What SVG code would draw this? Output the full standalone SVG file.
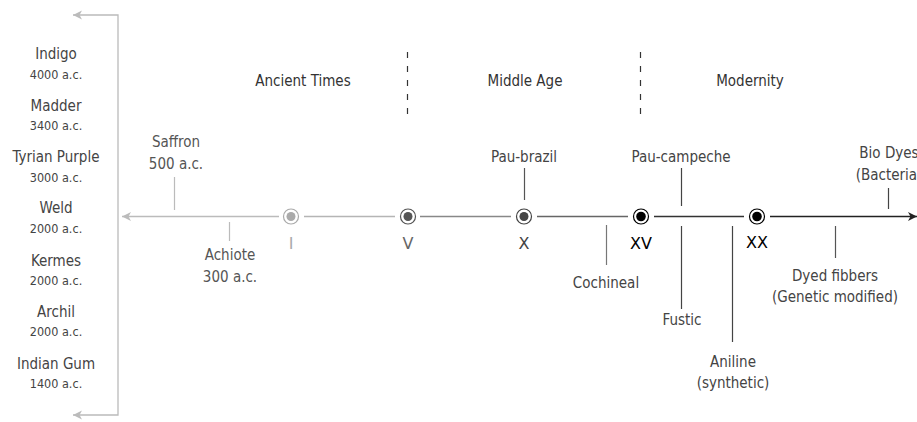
<svg xmlns="http://www.w3.org/2000/svg" width="917" height="422" viewBox="0 0 917 422">
  <defs>
    <marker id="arrow-light" viewBox="-10 -6 12 12" refX="0" refY="0" markerWidth="12" markerHeight="12" markerUnits="userSpaceOnUse" orient="auto-start-reverse">
      <path d="M-9,-4.5 L0,0 L-9,4.5 L-6.5,0 Z" fill="#bbbbbb"/>
    </marker>
    <marker id="arrow-dark" viewBox="-10 -6 12 12" refX="0" refY="0" markerWidth="12" markerHeight="12" markerUnits="userSpaceOnUse" orient="auto">
      <path d="M-9,-4.5 L0,0 L-9,4.5 L-6.5,0 Z" fill="#222222"/>
    </marker>
  </defs>
  <style>
    text { font-family: "DejaVu Sans Condensed", "DejaVu Sans", sans-serif; font-stretch: condensed; text-anchor: middle; fill: #444; }
    .name { font-size: 15px; }
    .year { font-size: 12.5px; }
    .era { font-size: 15px; fill: #333; }
    .num { font-family: "DejaVu Sans", sans-serif; font-stretch: normal; font-size: 16px; }
    .tick { stroke-width: 1.2; fill: none; }
    .seg { stroke-width: 1.3; fill: none; }
    .ring { fill: #ffffff; stroke-width: 1.2; }
    .divider { stroke: #333; stroke-width: 1.2; stroke-dasharray: 6 8; }
  </style>
  <rect width="917" height="422" fill="#ffffff"/>

  <!-- era labels and dividers -->
  <g id="eras">
    <text class="era" x="303" y="86">Ancient Times</text>
    <text class="era" x="525" y="86">Middle Age</text>
    <text class="era" x="750" y="86">Modernity</text>
    <line class="divider" x1="407.5" y1="52" x2="407.5" y2="118"/>
    <line class="divider" x1="640.5" y1="52" x2="640.5" y2="118"/>
  </g>

  <!-- ancient dyes list -->
  <g id="ancient-list">
    <text class="name" x="56" y="59">Indigo</text>
    <text class="year" x="56" y="79">4000 a.c.</text>
    <text class="name" x="56" y="111">Madder</text>
    <text class="year" x="56" y="130">3400 a.c.</text>
    <text class="name" x="56" y="162">Tyrian Purple</text>
    <text class="year" x="56" y="182">3000 a.c.</text>
    <text class="name" x="56" y="213">Weld</text>
    <text class="year" x="56" y="233">2000 a.c.</text>
    <text class="name" x="56" y="266">Kermes</text>
    <text class="year" x="56" y="285">2000 a.c.</text>
    <text class="name" x="56" y="317">Archil</text>
    <text class="year" x="56" y="336">2000 a.c.</text>
    <text class="name" x="56" y="369">Indian Gum</text>
    <text class="year" x="56" y="388">1400 a.c.</text>
  </g>

  <!-- connectors: timeline segments, bracket and ticks -->
  <g id="connectors">
    <path class="seg" stroke="#bbbbbb" d="M118,216 V15 H73" marker-end="url(#arrow-light)"/>
    <path class="seg" stroke="#bbbbbb" d="M118,216 V415 H73" marker-end="url(#arrow-light)"/>
    <line class="seg" stroke="#bbbbbb" x1="279" y1="216.5" x2="122" y2="216.5" marker-end="url(#arrow-light)"/>
    <line class="seg" stroke="#b5b5b5" x1="304" y1="216.5" x2="395" y2="216.5"/>
    <line class="seg" stroke="#888888" x1="420" y1="216.5" x2="511" y2="216.5"/>
    <line class="seg" stroke="#666666" x1="537" y1="216.5" x2="628" y2="216.5"/>
    <line class="seg" stroke="#333333" x1="654" y1="216.5" x2="744" y2="216.5"/>
    <line class="seg" stroke="#222222" x1="770" y1="216.5" x2="917" y2="216.5" marker-end="url(#arrow-dark)"/>

    <line class="tick" stroke="#bbbbbb" x1="174.5" y1="177" x2="174.5" y2="210"/>
    <line class="tick" stroke="#bbbbbb" x1="229.5" y1="222" x2="229.5" y2="241"/>
    <line class="tick" stroke="#555555" x1="524.5" y1="168" x2="524.5" y2="200"/>
    <line class="tick" stroke="#777777" x1="606.5" y1="225" x2="606.5" y2="265"/>
    <line class="tick" stroke="#444444" x1="681.5" y1="168" x2="681.5" y2="206"/>
    <line class="tick" stroke="#444444" x1="681.5" y1="226" x2="681.5" y2="309"/>
    <line class="tick" stroke="#444444" x1="732.5" y1="226" x2="732.5" y2="342"/>
    <line class="tick" stroke="#555555" x1="835.5" y1="226" x2="835.5" y2="258"/>
    <line class="tick" stroke="#444444" x1="888.5" y1="188" x2="888.5" y2="209"/>
  </g>

  <!-- century markers -->
  <g id="century-I">
    <circle class="ring" cx="291" cy="216.5" r="7.5" stroke="#aaaaaa"/>
    <circle cx="291" cy="216.5" r="4.5" fill="#aaaaaa"/>
    <text class="num" x="291" y="249" fill="#aaaaaa" style="fill:#aaaaaa">I</text>
  </g>
  <g id="century-V">
    <circle class="ring" cx="408" cy="216.5" r="7.5" stroke="#555555"/>
    <circle cx="408" cy="216.5" r="4.5" fill="#555555"/>
    <text class="num" x="408" y="249" style="fill:#666666">V</text>
  </g>
  <g id="century-X">
    <circle class="ring" cx="524" cy="216.5" r="7.5" stroke="#444444"/>
    <circle cx="524" cy="216.5" r="4.5" fill="#444444"/>
    <text class="num" x="524" y="249" style="fill:#444444">X</text>
  </g>
  <g id="century-XV">
    <circle class="ring" cx="641" cy="216.5" r="7.5" stroke="#000000" stroke-width="1.5"/>
    <circle cx="641" cy="216.5" r="4.8" fill="#000000"/>
    <text class="num" x="641" y="249" style="fill:#000000">XV</text>
  </g>
  <g id="century-XX">
    <circle class="ring" cx="757" cy="216.5" r="7.5" stroke="#000000" stroke-width="1.5"/>
    <circle cx="757" cy="216.5" r="4.8" fill="#000000"/>
    <text class="num" x="757" y="248" style="fill:#000000">XX</text>
  </g>

  <!-- dye events -->
  <g id="saffron">
    <text class="name" x="176" y="147" style="fill:#555">Saffron</text>
    <text class="name" x="176" y="169" style="fill:#555">500 a.c.</text>
  </g>
  <g id="achiote">
    <text class="name" x="230" y="260" style="fill:#555">Achiote</text>
    <text class="name" x="230" y="282" style="fill:#555">300 a.c.</text>
  </g>
  <g id="pau-brazil">
    <text class="name" x="524" y="162">Pau-brazil</text>
  </g>
  <g id="cochineal">
    <text class="name" x="606" y="288">Cochineal</text>
  </g>
  <g id="pau-campeche">
    <text class="name" x="681" y="162">Pau-campeche</text>
  </g>
  <g id="fustic">
    <text class="name" x="682" y="325">Fustic</text>
  </g>
  <g id="aniline">
    <text class="name" x="733" y="367">Aniline</text>
    <text class="name" x="733" y="388">(synthetic)</text>
  </g>
  <g id="dyed-fibbers">
    <text class="name" x="835" y="281">Dyed fibbers</text>
    <text class="name" x="835" y="302">(Genetic modified)</text>
  </g>
  <g id="bio-dyes">
    <text class="name" x="889" y="158">Bio Dyes</text>
    <text class="name" x="889" y="180">(Bacteria)</text>
  </g>
</svg>
